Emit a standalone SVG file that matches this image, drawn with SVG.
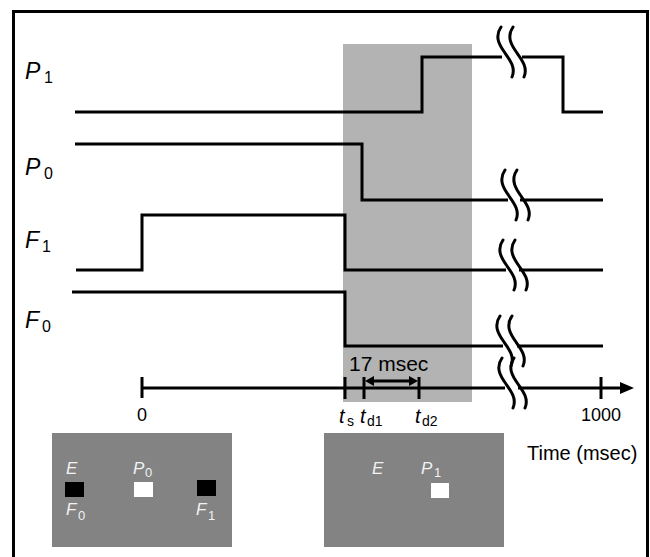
<svg xmlns="http://www.w3.org/2000/svg" xmlns:xlink="http://www.w3.org/1999/xlink" width="650" height="557" viewBox="0 0 650 557">
<style>
.tr{fill:none;stroke:#000;stroke-width:3;stroke-linejoin:miter;stroke-linecap:butt}
.br{fill:none;stroke:#000;stroke-width:3;stroke-linecap:round}
.tk{stroke:#000;stroke-width:3}
.t{font-family:"Liberation Sans",Arial,sans-serif;fill:#000}
.it{font-style:italic}
.w{font-family:"Liberation Sans",Arial,sans-serif;fill:#f2f2f2}
</style>
<defs>
<g id="brk">
<path class="br" d="M -9,-30 C -16,-20 -10,-11 -5,-4 C 0,3 6,11 2,20"/>
<path class="br" d="M 3,-30 C -4,-20 2,-11 7,-4 C 12,3 18,11 14,20"/>
</g>
</defs>
<rect width="650" height="557" fill="#fff"/>
<g id="frame"><rect x="13.5" y="11.5" width="634" height="570" fill="none" stroke="#000" stroke-width="3"/></g>
<g id="window"><rect x="343" y="44" width="129" height="358" fill="#b3b3b3"/></g>
<g id="connectors">
<path class="tr" d="M75,112 H422 V57 H502"/>
<path class="tr" d="M522,57 H563 V112 H603"/>
<path class="tr" d="M75,144 H362 V200 H508"/>
<path class="tr" d="M520,200 H603"/>
<path class="tr" d="M76,270 H142 V215 H345 V270 H506"/>
<path class="tr" d="M519,270 H603"/>
<path class="tr" d="M72,292 H345 V346 H503"/>
<path class="tr" d="M517,346 H603"/>
<path class="tr" d="M142,388 H505"/>
<path class="tr" d="M518,388 H622"/>
<polygon points="634,388 620,382 620,394" fill="#000"/>
<line class="tk" x1="142" y1="377" x2="142" y2="398"/>
<line class="tk" x1="345" y1="377" x2="345" y2="399"/>
<line class="tk" x1="364" y1="377" x2="364" y2="399"/>
<line class="tk" x1="419" y1="377" x2="419" y2="399"/>
<line class="tk" x1="601" y1="377" x2="601" y2="399"/>
<line class="tk" x1="372" y1="381" x2="411" y2="381"/>
<polygon points="365,381 374,376 374,386" fill="#000"/>
<polygon points="418,381 409,376 409,386" fill="#000"/>
<use xlink:href="#brk" x="510" y="57"/>
<use xlink:href="#brk" x="514" y="200"/>
<use xlink:href="#brk" x="512" y="270"/>
<use xlink:href="#brk" x="509" y="346"/>
<use xlink:href="#brk" x="511" y="388"/>
</g>
<g id="trace-labels">
<text class="t" font-size="23" y="79"><tspan class="it" x="25">P</tspan><tspan x="44" dy="4" font-size="16">1</tspan></text>
<text class="t" font-size="23" y="175"><tspan class="it" x="25">P</tspan><tspan x="44" dy="4" font-size="16">0</tspan></text>
<text class="t" font-size="23" y="248"><tspan class="it" x="25">F</tspan><tspan x="42" dy="4" font-size="16">1</tspan></text>
<text class="t" font-size="23" y="328"><tspan class="it" x="25">F</tspan><tspan x="42" dy="4" font-size="16">0</tspan></text>
</g>
<g id="axis-labels">
<text class="t" font-size="21" x="349" y="371">17 msec</text>
<text class="t" font-size="18" x="142" y="421" text-anchor="middle">0</text>
<text class="t" font-size="18" x="601" y="421" text-anchor="middle">1000</text>
<text class="t" font-size="20" x="527" y="460">Time (msec)</text>
<text class="t" font-size="20" y="423"><tspan class="it" x="339">t</tspan><tspan x="347" dy="3" font-size="14">s</tspan></text>
<text class="t" font-size="20" y="423"><tspan class="it" x="360">t</tspan><tspan x="367" dy="3" font-size="14">d1</tspan></text>
<text class="t" font-size="20" y="423"><tspan class="it" x="415">t</tspan><tspan x="422" dy="3" font-size="14">d2</tspan></text>
</g>
<g id="display-before">
<rect x="52" y="433" width="180" height="114" fill="#838383"/>
<rect x="65" y="482" width="19" height="15" fill="#000"/>
<rect x="134" y="482" width="19" height="15" fill="#fff"/>
<rect x="197" y="480" width="19" height="16" fill="#000"/>
<text class="w it" font-size="17" x="66" y="474">E</text>
<text class="w" font-size="17" y="474"><tspan class="it" x="133">P</tspan><tspan x="145" dy="3" font-size="13">0</tspan></text>
<text class="w" font-size="17" y="515"><tspan class="it" x="66">F</tspan><tspan x="78" dy="5" font-size="13">0</tspan></text>
<text class="w" font-size="17" y="515"><tspan class="it" x="196">F</tspan><tspan x="208" dy="5" font-size="13">1</tspan></text>
</g>
<g id="display-after">
<rect x="324" y="433" width="180" height="114" fill="#838383"/>
<rect x="431" y="483" width="18" height="15" fill="#fff"/>
<text class="w it" font-size="17" x="372" y="474">E</text>
<text class="w" font-size="17" y="474"><tspan class="it" x="421">P</tspan><tspan x="434" dy="3" font-size="13">1</tspan></text>
</g>
</svg>
